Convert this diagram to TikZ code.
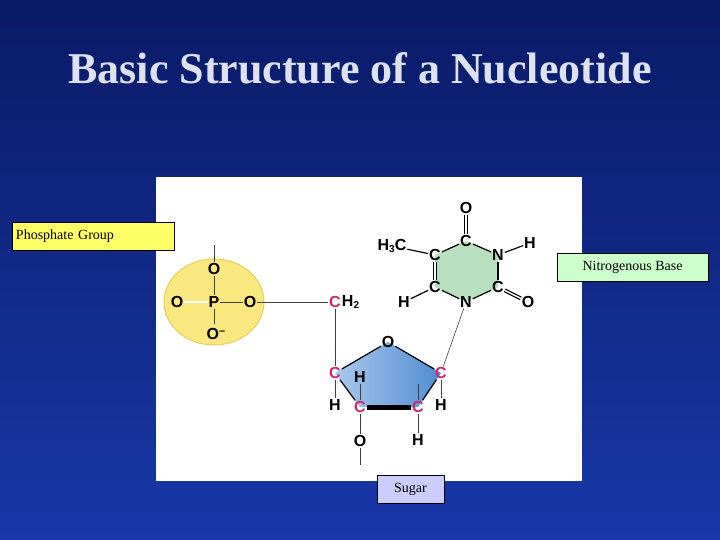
\documentclass[tikz,border=0pt]{standalone}
\usepackage{fontspec}
\setmainfont{Liberation Serif}
\newfontfamily\chem{Liberation Sans}
\usetikzlibrary{calc}
\definecolor{bgtop}{HTML}{0A1A66}
\definecolor{bgbot}{HTML}{1838A8}
\definecolor{mag}{HTML}{C8286E}
\definecolor{phfill}{RGB}{249,232,128}
\definecolor{phdraw}{RGB}{230,205,90}
\definecolor{sugL}{RGB}{170,200,235}
\definecolor{sugR}{RGB}{80,140,210}
\definecolor{basefill}{RGB}{184,224,192}
\definecolor{ylw}{RGB}{255,255,102}
\definecolor{grn}{RGB}{204,255,204}
\definecolor{lav}{RGB}{204,204,255}
\definecolor{ttl}{RGB}{222,225,240}
\newcommand{\sbs}[1]{\raisebox{-0.3ex}{\fontsize{10}{10}\selectfont #1}}
\tikzset{
 lbl/.style={draw=black,font=\fontsize{14}{16}\selectfont,inner sep=3pt,anchor=center},
 at0/.style={font=\chem\bfseries\fontsize{16}{17}\selectfont,inner sep=0.8pt},
 atc/.style={at0,text=mag},
 bond/.style={line width=1.2pt,black},
 thin/.style={line width=0.6pt,black!75}
}
\begin{document}
\begin{tikzpicture}[x=1pt,y=-1pt]
\shade[top color=bgtop,bottom color=bgbot] (0,0) rectangle (720,540);
\useasboundingbox (0,0) rectangle (720,540);
\node (title) [text=ttl] at (360,68) {\fontsize{44}{46}\selectfont\bfseries Basic Structure of a Nucleotide};
\fill[white] (156,177) rectangle (582,481);
% phosphate
\draw[fill=phfill,draw=phdraw,line width=1pt] (214,302) ellipse (50 and 43);
\node[at0] (Ot) at (214,269) {O};
\node[at0] (P) at (214,302) {P};
\node[at0] (Ol) at (177,302) {O};
\node[at0] (Or) at (250,302) {O};
\node[at0] (Om) at (216,334) {O\raisebox{0.6ex}{\fontsize{11}{11}\selectfont –}};
\coordinate (top) at (214,245);
\draw[thin] (top) -- (Ot);
\draw[thin] (Ot) -- (P); \draw[thin] (P) -- (Or); \draw[thin] (P) -- (214,324);
\draw[thin,double,double distance=1.5pt] (Ol) -- (P);
% sugar
\coordinate (pO) at (388,342); \coordinate (pR) at (441,373); \coordinate (pBR) at (418,407);
\coordinate (pBL) at (360,407); \coordinate (pL) at (335,373);
\shade[left color=sugL,right color=sugR] (pO)--(pR)--(pBR)--(pBL)--(pL)--cycle;
\node[at0] (sO) at (pO) {O};
\node[atc] (cL) at (pL) {C};
\node[atc] (cR) at (pR) {C};
\node[atc] (cBL) at (pBL) {C};
\node[atc] (cBR) at (pBR) {C};
\draw[bond] (cL)--(sO); \draw[bond] (sO)--(cR); \draw[bond] (cR)--(cBR); \draw[bond] (cL)--(cBL);
\draw[line width=5pt] (cBL)--(cBR);
\node[atc] (ch2c) at (335,302) {C};
\node[at0,anchor=west,inner sep=0pt] (ch2h) at (ch2c.east) {H\sbs{2}};
\draw[thin] (Or) -- (ch2c);
\draw[thin] (ch2c) -- (cL);
\node[at0] (hL) at (335,405) {H};
\node[at0] (hIn) at (360,377) {H};
\node[at0] (oB) at (360,441) {O};
\coordinate (oBend) at (360,465);
\node[at0] (hR) at (441,405) {H};
\node[at0] (hBR) at (418,440) {H};
\coordinate (hBRup) at (418,384);
\draw[thin] (cL)--(hL); \draw[thin] (cBL)--(hIn); \draw[thin] (cBL)--(oB); \draw[thin] (oB)--(oBend);
\draw[thin] (cR)--(hR); \draw[thin] (cBR)--(hBR); \draw[thin] (cBR)--(hBRup);
% base
\coordinate (b1) at (466,241); \coordinate (b2) at (498,255); \coordinate (b3) at (498,287);
\coordinate (b4) at (466,302); \coordinate (b5) at (435,287); \coordinate (b6) at (435,255);
\fill[basefill] (b1)--(b2)--(b3)--(b4)--(b5)--(b6)--cycle;
\node[at0] (nC1) at (b1) {C};
\node[at0] (nN1) at (b2) {N};
\node[at0] (nC2) at (b3) {C};
\node[at0] (nN2) at (b4) {N};
\node[at0] (nC3) at (b5) {C};
\node[at0] (nC4) at (b6) {C};
\draw[bond] (nC1)--(nN1); \draw[bond] (nN1)--(nC2); \draw[bond] (nC2)--(nN2);
\draw[bond] (nN2)--(nC3); \draw[bond] (nC4)--(nC1);
\draw[bond,double,double distance=2pt] (nC3)--(nC4);
\node[at0] (bO1) at (466,208) {O};
\node[at0] (bH1) at (530,243) {H};
\node[at0] (bO2) at (528,302) {O};
\node[at0] (bme) at (392,246) {H\sbs{3}C};
\node[at0] (bH2) at (404,302) {H};
\draw[bond,double,double distance=1.5pt] (nC1)--(bO1);
\draw[bond,double,double distance=1.5pt] (nC2)--(bO2);
\draw[bond] (nN1)--(bH1); \draw[bond] (nC4)--(bme); \draw[bond] (nC3)--(bH2);
\draw[thin] (cR)--(nN2);
% labels
\node[lbl,fill=ylw,minimum width=162,minimum height=28,align=left,text width=154] (lp) at (93,236) {Phosphate Group};
\node[lbl,fill=grn,minimum width=151,minimum height=28] (lb) at (632.5,267) {Nitrogenous Base};
\node[lbl,fill=lav,minimum width=67,minimum height=28] (ls) at (410.5,489) {Sugar};
\end{tikzpicture}
\end{document}
